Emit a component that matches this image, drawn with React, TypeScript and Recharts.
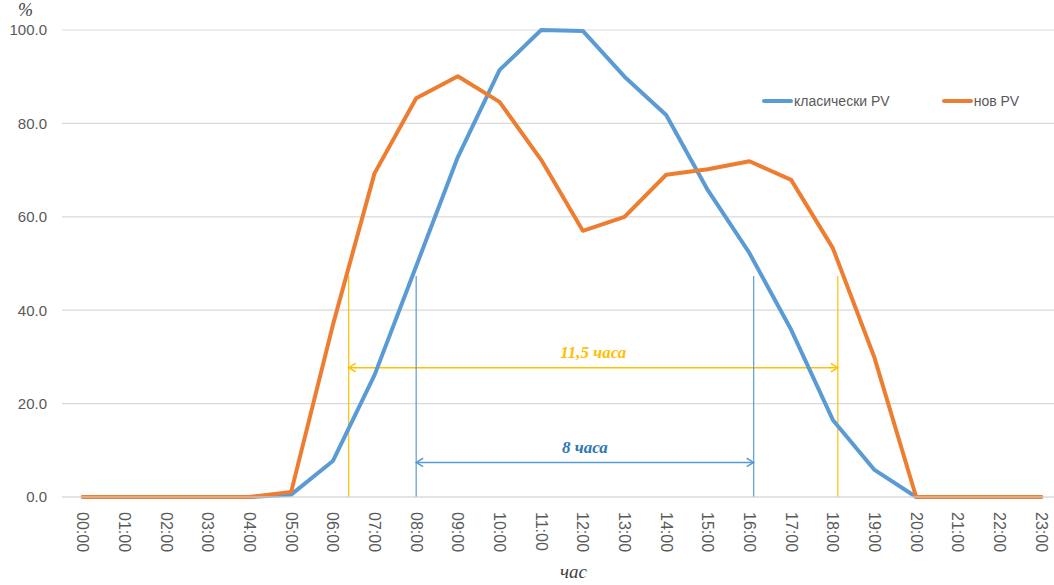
import React from 'react';
import { LineChart, Line, XAxis, YAxis, CartesianGrid, ReferenceLine } from 'recharts';

// Hour labels for the category axis
const hourLabels = [
  '00:00', '01:00', '02:00', '03:00', '04:00', '05:00', '06:00', '07:00',
  '08:00', '09:00', '10:00', '11:00', '12:00', '13:00', '14:00', '15:00',
  '16:00', '17:00', '18:00', '19:00', '20:00', '21:00', '22:00', '23:00',
];

// Relative output, %
const classicPV = [
  0, 0, 0, 0, 0, 0.5, 7.7, 26.1, 49.4, 72.8, 91.4, 100.0,
  99.8, 90.0, 81.8, 65.7, 52.2, 35.8, 16.5, 5.8, 0, 0, 0, 0,
];
const newPV = [
  0, 0, 0, 0, 0, 1.1, 36.8, 69.3, 85.4, 90.1, 84.6, 72.2,
  57.0, 60.0, 69.0, 70.2, 71.9, 67.9, 53.3, 29.8, 0, 0, 0, 0,
];

const yTicks = [0, 20, 40, 60, 80, 100];

// Production windows (hour positions) and their span labels
const newSpan = { from: 6.38, to: 18.12, level: 27.7, top: 47.3, label: '11,5 часа' };
const classicSpan = { from: 8.0, to: 16.1, level: 7.4, top: 47.3, label: '8 часа' };

const seriesNames = { classic: 'класически PV', fresh: 'нов PV' };

const BLUE = '#5B9BD5';
const ORANGE = '#ED7D31';
const YELLOW = '#FFC000';
const BLUE_TEXT = '#2E75B6';
const GRID = '#D9D9D9';
const TEXT = '#595959';

const data = hourLabels.map((label, i) => ({
  h: i,
  label,
  classic: classicPV[i],
  fresh: newPV[i],
}));

const HourTick = (props: any) => {
  const { x, payload } = props;
  const y = 512;
  return (
    <text
      x={x}
      y={y}
      transform={`rotate(90, ${x}, ${y})`}
      textAnchor="start"
      dominantBaseline="central"
      fill={TEXT}
      fontSize={16}
      fontFamily="'Liberation Sans', Arial, sans-serif"
    >
      {hourLabels[payload.value]}
    </text>
  );
};

const makeArrow = (color: string, textColor: string, text: string) => (p: any) => {
  const { x1, y1, x2, y2 } = p;
  const a = 7;
  const mx = (x1 + x2) / 2;
  const my = (y1 + y2) / 2;
  return (
    <g>
      <line x1={x1} y1={y1} x2={x2} y2={y2} stroke={color} strokeWidth={1.5} />
      <polyline
        points={`${x1 + a},${y1 - a * 0.6} ${x1},${y1} ${x1 + a},${y1 + a * 0.6}`}
        fill="none"
        stroke={color}
        strokeWidth={1.5}
      />
      <polyline
        points={`${x2 - a},${y2 - a * 0.6} ${x2},${y2} ${x2 - a},${y2 + a * 0.6}`}
        fill="none"
        stroke={color}
        strokeWidth={1.5}
      />
      <text
        x={mx}
        y={my - 15}
        textAnchor="middle"
        dominantBaseline="central"
        fill={textColor}
        fontSize={17}
        fontStyle="italic"
        fontWeight="bold"
        fontFamily="'Liberation Serif', 'DejaVu Serif', serif"
      >
        {text}
      </text>
    </g>
  );
};

const SeriesKey = () => (
  <div
    style={{
      position: 'absolute',
      left: 762,
      top: 93,
      display: 'flex',
      alignItems: 'center',
      fontFamily: "'Liberation Sans', Arial, sans-serif",
      fontSize: 14,
      color: TEXT,
    }}
  >
    <span style={{ display: 'inline-block', width: 31, height: 4, background: BLUE, borderRadius: 2 }} />
    <span style={{ marginLeft: 1 }}>{seriesNames.classic}</span>
    <span style={{ display: 'inline-block', width: 31, height: 4, background: ORANGE, borderRadius: 2, marginLeft: 52 }} />
    <span style={{ marginLeft: 1 }}>{seriesNames.fresh}</span>
  </div>
);

export default function App() {
  return (
    <div
      style={{
        position: 'absolute',
        left: 0,
        top: 0,
        width: 1054,
        height: 585,
        overflow: 'hidden',
        background: '#fff',
      }}
    >
      <LineChart
        width={1070}
        height={585}
        data={data}
        margin={{ top: 30, right: 8, left: 0, bottom: 0 }}
      >
        <CartesianGrid vertical={false} stroke={GRID} strokeWidth={1.2} />
        <XAxis
          dataKey="h"
          type="number"
          domain={[-0.5, 23.5]}
          ticks={data.map((d) => d.h)}
          interval={0}
          height={88}
          tickLine={false}
          axisLine={{ stroke: GRID, strokeWidth: 1.2 }}
          tick={<HourTick />}
        />
        <YAxis
          width={62}
          domain={[0, 100]}
          ticks={yTicks}
          tickFormatter={(v: number) => v.toFixed(1)}
          tickLine={false}
          axisLine={false}
          tickSize={0}
          tickMargin={15}
          tick={{ fill: TEXT, fontSize: 15, fontFamily: "'Liberation Sans', Arial, sans-serif" }}
        />

        {/* window of the new panels */}
        <ReferenceLine
          segment={[{ x: newSpan.from, y: 0 }, { x: newSpan.from, y: newSpan.top }]}
          stroke={YELLOW}
          strokeWidth={1.2}
        />
        <ReferenceLine
          segment={[{ x: newSpan.to, y: 0 }, { x: newSpan.to, y: newSpan.top }]}
          stroke={YELLOW}
          strokeWidth={1.2}
        />
        <ReferenceLine
          segment={[{ x: newSpan.from, y: newSpan.level }, { x: newSpan.to, y: newSpan.level }]}
          shape={makeArrow(YELLOW, YELLOW, newSpan.label)}
        />

        {/* window of the classic panels */}
        <ReferenceLine
          segment={[{ x: classicSpan.from, y: 0 }, { x: classicSpan.from, y: classicSpan.top }]}
          stroke={BLUE}
          strokeWidth={1.2}
        />
        <ReferenceLine
          segment={[{ x: classicSpan.to, y: 0 }, { x: classicSpan.to, y: classicSpan.top }]}
          stroke={BLUE}
          strokeWidth={1.2}
        />
        <ReferenceLine
          segment={[{ x: classicSpan.from, y: classicSpan.level }, { x: classicSpan.to, y: classicSpan.level }]}
          shape={makeArrow(BLUE, BLUE_TEXT, classicSpan.label)}
        />

        <Line
          dataKey="classic"
          name={seriesNames.classic}
          stroke={BLUE}
          strokeWidth={4}
          dot={false}
          isAnimationActive={false}
          strokeLinejoin="round"
          strokeLinecap="round"
        />
        <Line
          dataKey="fresh"
          name={seriesNames.fresh}
          stroke={ORANGE}
          strokeWidth={4}
          dot={false}
          isAnimationActive={false}
          strokeLinejoin="round"
          strokeLinecap="round"
        />
      </LineChart>
      <SeriesKey />
      <div
        style={{
          position: 'absolute',
          left: 18,
          top: 1,
          lineHeight: 1,
          fontFamily: "'Liberation Serif', 'DejaVu Serif', serif",
          fontStyle: 'italic',
          fontSize: 18,
          color: '#404040',
        }}
      >
        %
      </div>
      <div
        style={{
          position: 'absolute',
          left: 560,
          top: 562,
          lineHeight: 1,
          fontFamily: "'Liberation Serif', 'DejaVu Serif', serif",
          fontStyle: 'italic',
          fontSize: 19,
          color: '#404040',
        }}
      >
        час
      </div>
    </div>
  );
}
